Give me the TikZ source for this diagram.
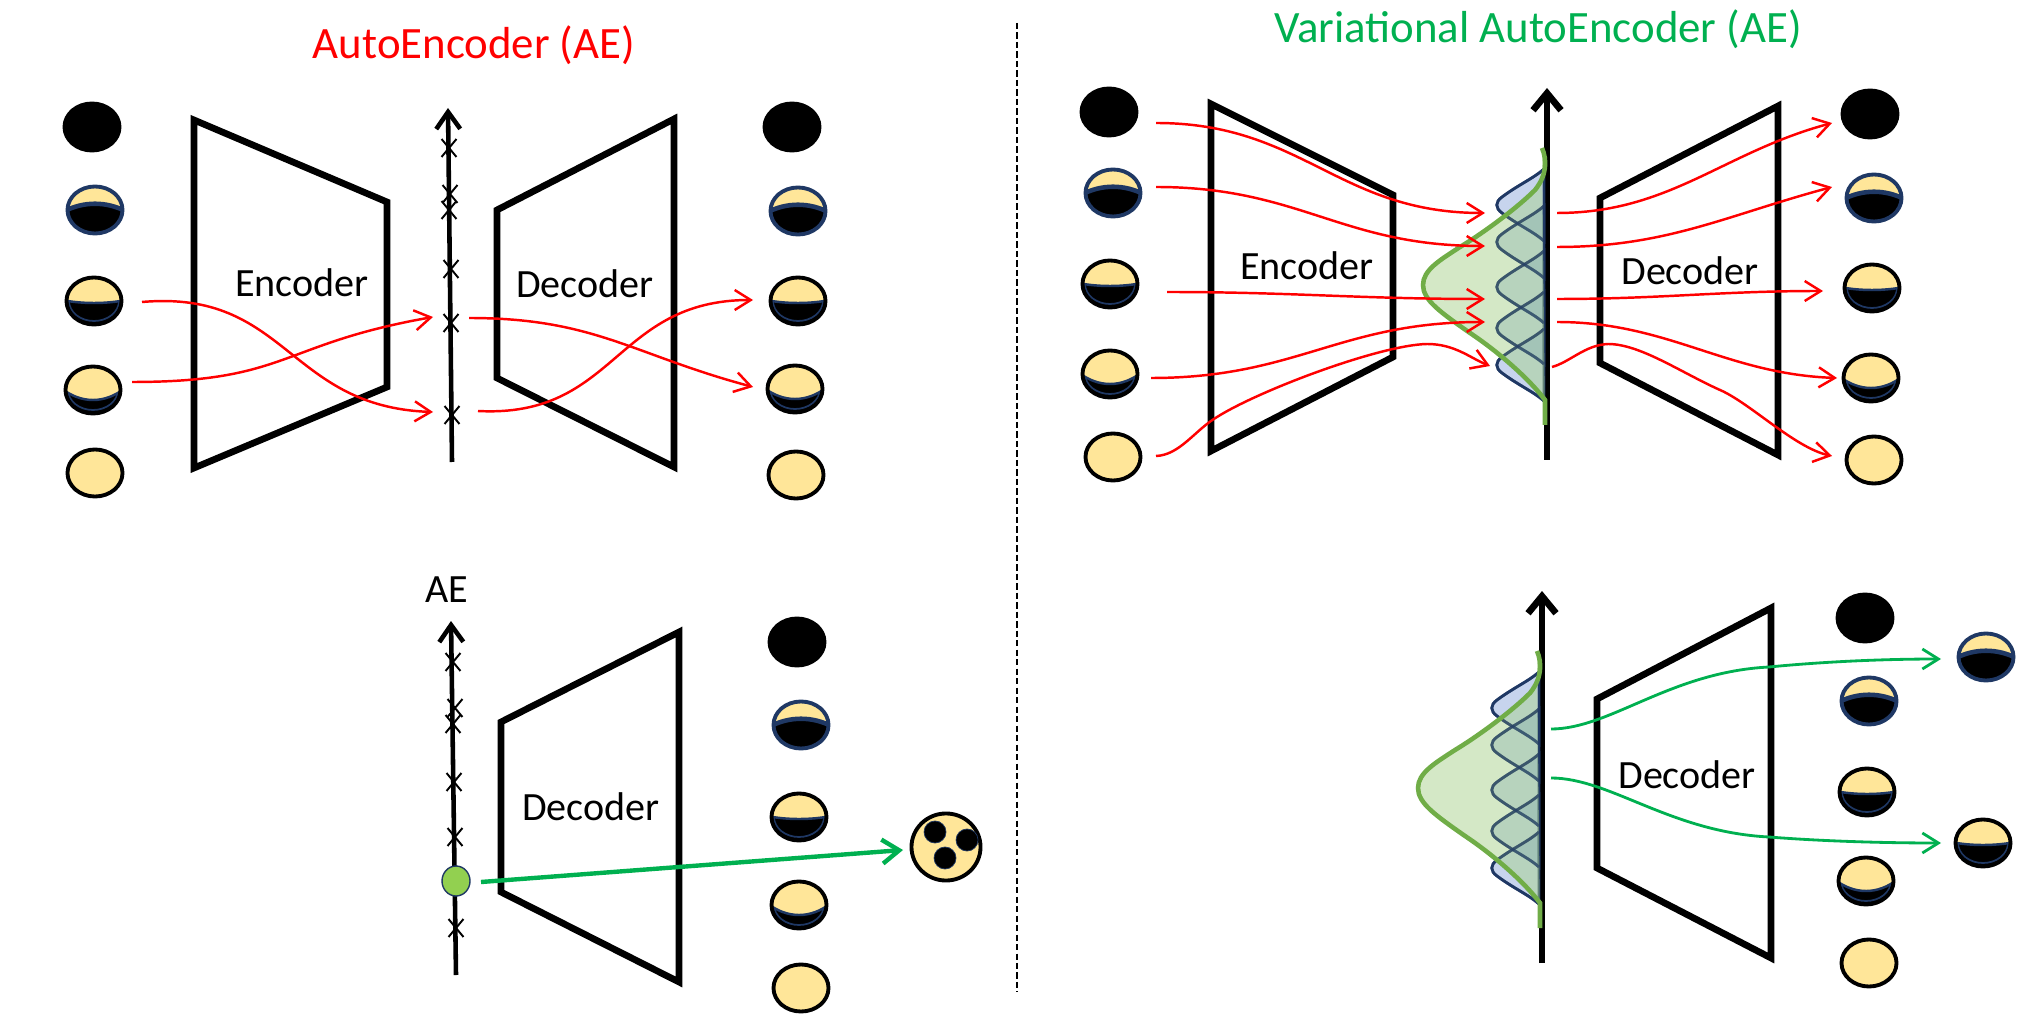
\documentclass[tikz,border=0pt]{standalone}
\usepackage{fontspec}
\setmainfont{Carlito}
\usetikzlibrary{arrows.meta,shapes.geometric,shapes.misc}

\definecolor{ballyellow}{HTML}{FFE699}
\definecolor{ringblue}{HTML}{1F3864}
\definecolor{vaegreen}{HTML}{00B050}
\definecolor{gaussgreen}{HTML}{70AD47}
\definecolor{gaussfill}{HTML}{A9D18E}
\definecolor{bumpfill}{HTML}{4472C4}
\definecolor{dotgreen}{HTML}{92D050}

\tikzset{
    >={Straight Barb[length=1.6mm,width=2mm]},
    trapez/.style={draw, line width=1.9pt, miter limit=10},
    axisline/.style={line width=1.3pt, -{Straight Barb[length=1.7mm,width=2.4mm]}},
    bigaxis/.style={line width=1.9pt, -{Straight Barb[length=1.7mm,width=2.8mm]}},
    redflow/.style={red, line width=.7pt, ->},
    greenflow/.style={vaegreen, line width=.8pt, ->},
    crossmark/.style={cross out, draw, line width=.55pt, inner sep=0pt, minimum width=.13cm, minimum height=.16cm},
    ballbase/.style={ellipse, draw=black, line width=1.1pt, inner sep=0pt, minimum width=.55cm, minimum height=.47cm},
    ballfull/.style={ballbase, fill=ballyellow},
    ballblack/.style={ballbase, fill=black},
    ballcut/.style n args={4}{ballbase, fill=ballyellow, path picture={
        \begin{scope}[shift={(path picture bounding box.center)}]
            \fill[black] (-32,#1) .. controls (-12,#2) and (12,#2) .. (32,#1) -- (32,32) -- (-32,32) -- cycle;
            \begin{scope}
                \clip (-32,#1) .. controls (-12,#2) and (12,#2) .. (32,#1) -- (32,32) -- (-32,32) -- cycle;
                \draw[#4, line width=.5pt] (0,0) ellipse (25 and 20);
            \end{scope}
            \draw[ringblue, line width=#3] (-32,#1) .. controls (-12,#2) and (12,#2) .. (32,#1);
        \end{scope}}},
    ballhigh/.style={ballcut={2}{-9}{1.3pt}{black}, draw=ringblue},
    ballmid/.style={ballcut={-1}{3}{.7pt}{ringblue}},
    balllow/.style={ballcut={-2}{14}{.7pt}{ringblue}},
    label/.style={font=\fontsize{11.4}{13}\selectfont, inner sep=0pt},
    heading/.style={font=\fontsize{12.75}{16}\selectfont, inner sep=0pt},
    bumppath/.style={line width=.8pt},
}

% axis with the small gaussians and the big one on top
\newcommand{\bumpshape}[1]{
    (1544,#1-36) .. controls (1534,#1-27) and (1518,#1-20) .. (1502,#1-8)
    .. controls (1495,#1-3) and (1495,#1+3) .. (1502,#1+8)
    .. controls (1518,#1+20) and (1534,#1+27) .. (1544,#1+36)
}
\newcommand{\gaussshape}{
    (1542,148) .. controls (1547,160) and (1547,175) .. (1535,190)
    .. controls (1515,210) and (1480,235) .. (1460,247)
    .. controls (1440,260) and (1423,270) .. (1423,285)
    .. controls (1423,300) and (1440,312) .. (1470,333)
    .. controls (1500,353) and (1530,380) .. (1545,400)
    -- (1545,425)
}
\newcommand{\latentaxis}[1]{
    \coordinate (#1bot) at (1547,460);
    \coordinate (#1top) at (1547,88);
    \draw[bigaxis] (#1bot) -- (#1top);
    \foreach \yc in {205,242,287,328,365}
        \draw[bumppath, ringblue, fill=bumpfill, fill opacity=.3] \bumpshape{\yc} -- cycle;
    \fill[gaussfill, fill opacity=.5] \gaussshape;
    \foreach \yc in {205,242,287,328,365}
        \draw[bumppath, ringblue, draw opacity=.6] \bumpshape{\yc};
    \draw[gaussgreen, line width=1.3pt] \gaussshape;
}

\begin{document}
\begin{tikzpicture}[x=.01cm, y=-.01cm]
    \useasboundingbox (0,0) rectangle (2034,1022);

    \node[heading, text=red] (aetitle) at (474,45) {AutoEncoder (AE)};
    \node[heading, text=vaegreen] (vaetitle) at (1538,29) {Variational AutoEncoder (AE)};

    \coordinate (sepa) at (1017,23);
    \coordinate (sepb) at (1017,992);
    \draw[dash pattern=on 1.8pt off .9pt, line width=.6pt] (sepa) -- (sepb);

    % top left
    \foreach \n/\x/\y/\s in {a1/92/127/ballblack, a2/95/210/ballhigh, a3/94/301/ballmid, a4/93/390/balllow, a5/95/473/ballfull,
                             b1/792/127/ballblack, b2/798/211/ballhigh, b3/798/301/ballmid, b4/795/389/balllow, b5/796/475/ballfull}
        \node[\s] (\n) at (\x,\y) {};

    \draw[trapez] (194,120) -- (387,202) -- (387,387) -- (194,468) -- cycle;
    \draw[trapez] (497,210) -- (674,119) -- (674,467) -- (497,378) -- cycle;
    \node[label] (enca) at (302,283) {Encoder};
    \node[label] (deca) at (585,284) {Decoder};

    \coordinate (aebot) at (452,462);
    \coordinate (aetop) at (448,108);
    \draw[axisline] (aebot) -- (aetop);
    \foreach \i/\x/\y in {1/449/148, 2/450/194, 3/449/210, 4/451/269, 5/451/323, 6/452/415}
        \node[crossmark] (ca\i) at (\x,\y) {};

    \coordinate (p1) at (142,302);
    \coordinate (p2) at (132,382);
    \coordinate (q1) at (433,412);
    \coordinate (q2) at (433,317);
    \coordinate (p3) at (469,318);
    \coordinate (p4) at (478,411);
    \coordinate (q3) at (753,387);
    \coordinate (q4) at (753,300);
    \draw[redflow] (p1) to[out=5, in=178, looseness=1.2] (q1);
    \draw[redflow] (p2) to[out=0, in=190, looseness=1.3] (q2);
    \draw[redflow] (p3) to[out=0, in=165, looseness=1.1] (q3);
    \draw[redflow] (p4) to[out=-3, in=180, looseness=1.2] (q4);

    % bottom left
    \node[label] (aelabel) at (447,590) {AE};
    \foreach \n/\x/\y/\s in {e1/797/642/ballblack, e2/801/725/ballhigh, e3/799/817/ballmid, e4/799/905/balllow, e5/801/988/ballfull}
        \node[\s] (\n) at (\x,\y) {};

    \draw[trapez] (501,722) -- (679,632) -- (679,982) -- (501,892) -- cycle;
    \node[label] (decb) at (591,807) {Decoder};

    \coordinate (aebotb) at (456,975);
    \coordinate (aetopb) at (451,621);
    \draw[axisline] (aebotb) -- (aetopb);
    \foreach \i/\x/\y in {1/453/662, 2/455/708, 3/453/724, 4/454/782, 5/455/837, 6/456/928}
        \node[crossmark] (cb\i) at (\x,\y) {};
    \node[ellipse, draw=ringblue, fill=dotgreen, line width=.4pt, inner sep=0pt, minimum width=.28cm, minimum height=.3cm] (dot) at (456,881) {};

    \node[ballfull, minimum width=.69cm, minimum height=.67cm] (sample) at (946,847) {};
    \foreach \i/\x/\y in {1/935/832, 2/967/840, 3/945/858}
        \node[circle, fill=black, draw=ringblue, line width=.2pt, inner sep=0pt, minimum size=.22cm] (hole\i) at (\x,\y) {};

    \coordinate (dotout) at (481,882);
    \coordinate (samplein) at (903,850);
    \draw[vaegreen, line width=1.25pt, -{Straight Barb[length=1.7mm,width=2.4mm]}] (dotout) -- (samplein);

    % top right
    \foreach \n/\x/\y/\s in {f1/1109/112/ballblack, f2/1113/193/ballhigh, f3/1110/284/ballmid, f4/1110/374/balllow, f5/1113/457/ballfull,
                             g1/1870/114/ballblack, g2/1874/198/ballhigh, g3/1872/288/ballmid, g4/1871/378/balllow, g5/1874/460/ballfull}
        \node[\s] (\n) at (\x,\y) {};

    \draw[trapez] (1211,104) -- (1393,195) -- (1393,357) -- (1211,451) -- cycle;
    \draw[trapez] (1600,198) -- (1778,106) -- (1778,455) -- (1600,363) -- cycle;
    \node[label] (encc) at (1307,266) {Encoder};
    \node[label] (decc) at (1690,271) {Decoder};

    \latentaxis{va}

    \foreach \i/\x/\y in {1/1156/123, 2/1156/187, 3/1167/292, 4/1151/378, 5/1156/456}
        \coordinate (r\i) at (\x,\y);
    \foreach \i/\x/\y in {1/1485/213, 2/1485/246, 3/1485/299, 4/1485/322, 5/1490/366}
        \coordinate (s\i) at (\x,\y);
    \foreach \i/\x/\y in {1/1557/213, 2/1557/247, 3/1557/299, 4/1557/322, 5/1552/367}
        \coordinate (t\i) at (\x,\y);
    \foreach \i/\x/\y in {1/1832/123, 2/1832/187, 3/1823/291, 4/1837/378, 5/1832/456}
        \coordinate (w\i) at (\x,\y);

    \draw[redflow] (r1) to[out=0, in=180, looseness=1.1] (s1);
    \draw[redflow] (r2) to[out=0, in=180, looseness=1.1] (s2);
    \draw[redflow] (r3) to[out=0, in=180] (s3);
    \draw[redflow] (r4) to[out=0, in=180, looseness=1.1] (s4);
    \draw[redflow] (r5) .. controls (1180,455) and (1195,430) .. (1217,417)
        .. controls (1260,390) and (1380,345) .. (1427,344)
        .. controls (1455,344) and (1470,358) .. (s5);

    \draw[redflow] (t1) to[out=0, in=195] (w1);
    \draw[redflow] (t2) to[out=0, in=195] (w2);
    \draw[redflow] (t3) to[out=0, in=180] (w3);
    \draw[redflow] (t4) to[out=0, in=178] (w4);
    \draw[redflow] (t5) .. controls (1570,362) and (1585,345) .. (1608,344)
        .. controls (1640,344) and (1680,372) .. (1720,390)
        .. controls (1750,403) and (1795,448) .. (w5);

    % bottom right
    \foreach \n/\x/\y/\s in {h1/1865/618/ballblack, h2/1869/701/ballhigh, h3/1867/792/ballmid, h4/1866/881/balllow, h5/1869/963/ballfull,
                             k1/1986/657/ballhigh, k2/1983/843/ballmid}
        \node[\s] (\n) at (\x,\y) {};

    \draw[trapez] (1597,699) -- (1771,608) -- (1771,958) -- (1597,868) -- cycle;
    \node[label] (decd) at (1687,775) {Decoder};

    \begin{scope}[shift={(-5,503)}]
        \latentaxis{vb}
    \end{scope}

    \coordinate (u1) at (1551,729);
    \coordinate (u2) at (1551,778);
    \coordinate (v1) at (1941,659);
    \coordinate (v2) at (1941,843);
    \draw[greenflow] (u1) .. controls (1610,729) and (1670,672) .. (1769,667) .. controls (1820,662) and (1880,659) .. (v1);
    \draw[greenflow] (u2) .. controls (1610,778) and (1670,832) .. (1769,837) .. controls (1820,841) and (1880,843) .. (v2);
\end{tikzpicture}
\end{document}
